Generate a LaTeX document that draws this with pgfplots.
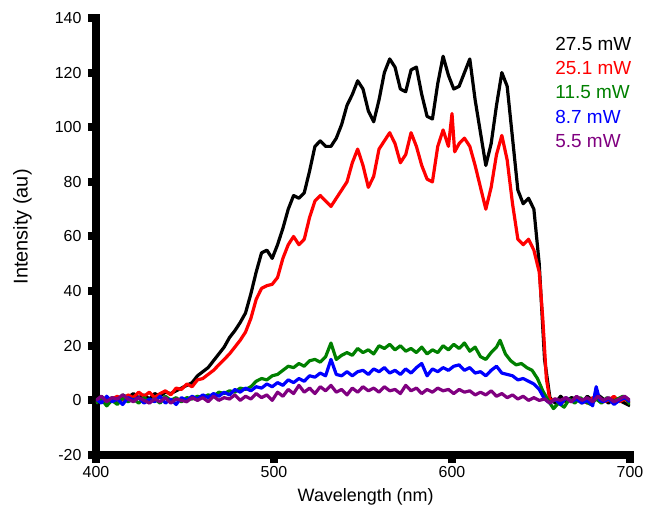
\documentclass[border=0pt]{standalone}
\usepackage{pgfplots}
\pgfplotsset{compat=1.18}
\usepackage{fontspec}
\setmainfont{Liberation Sans}
\definecolor{cgreen}{RGB}{0,128,0}
\definecolor{cpurple}{RGB}{128,0,128}

\pgfplotstableread{
x y
400 0.5
403 1.5
406 -0.5
409 1.0
412 0.0
415 2.0
418 1.0
421 2.5
424 1.0
427 2.0
430 0.5
433 2.5
436 1.5
439 3.0
442 2.5
445 3.5
448 4.5
451 5.5
454 6.5
457 9.0
460 10.5
463 12.0
466 14.5
469 17.0
472 19.5
475 23.0
478 25.5
481 28.5
484 32.0
487 39.0
490 47.0
493 54.0
496 55.0
499 52.0
502 57.0
505 63.0
508 70.0
511 75.0
514 74.0
517 76.0
520 84.0
523 93.0
526 95.0
529 93.0
532 93.0
535 96.0
538 101.0
541 108.0
544 112.0
547 117.0
550 114.0
553 106.0
556 102.0
559 110.0
562 120.0
565 125.0
568 122.0
571 114.0
574 113.0
577 121.0
580 122.0
583 112.0
586 104.0
589 103.0
592 116.0
595 126.0
598 119.0
601 114.0
604 115.0
607 120.0
610 125.0
613 110.0
616 98.0
619 86.0
622 94.0
625 108.0
628 120.0
631 115.0
634 96.0
637 77.0
640 72.0
643 74.0
646 70.0
649 50.0
652 15.0
655 1.0
658 -1.0
661 1.5
664 -0.5
667 1.0
670 0.5
673 -1.0
676 1.5
679 0.0
682 2.0
685 0.5
688 -1.0
691 1.0
694 0.0
697 -1.0
700 -2.0
}\pwa

\pgfplotstableread{
x y
400 -1.0
403 1.0
406 -1.5
409 0.5
412 1.5
415 0.0
418 2.0
421 1.0
424 3.0
427 1.5
430 3.0
433 1.0
436 2.5
439 3.5
442 2.0
445 4.5
448 4.0
451 6.0
454 5.0
457 7.5
460 8.0
463 9.5
466 11.0
469 13.0
472 15.0
475 17.0
478 19.5
481 22.0
484 25.0
487 30.0
490 37.0
493 41.0
496 42.0
499 42.5
502 45.0
505 52.0
508 57.0
511 60.0
514 57.0
517 59.0
520 67.0
523 73.0
526 75.0
529 73.0
532 71.0
535 74.0
538 77.0
541 80.0
544 87.0
547 92.0
550 86.0
553 78.0
556 82.0
559 92.0
562 95.0
565 98.0
568 94.0
571 87.0
574 90.0
577 98.0
580 93.0
583 86.0
586 81.0
589 80.0
592 93.0
595 99.0
598 93.0
600 105.0
601.5 91.0
604 94.0
607 96.0
610 93.0
613 86.0
616 78.0
619 70.0
622 78.0
625 90.0
628 97.0
631 88.0
634 72.0
637 59.0
640 57.0
643 59.0
646 55.0
649 47.0
651 30.0
653 8.0
655 0.0
658 0.5
661 -1.5
664 1.0
667 -0.5
670 1.0
673 0.0
676 -1.0
679 1.0
682 0.5
685 -0.5
688 0.0
691 1.5
694 -0.5
697 0.5
700 -1.0
}\pwb

\pgfplotstableread{
x y
400 -1.0
403 0.5
406 -2.0
409 0.0
412 -1.5
415 1.0
418 -0.5
421 0.5
424 -1.0
427 1.0
430 -0.5
433 0.5
436 -1.0
439 1.5
442 0.0
445 1.0
448 -0.5
451 1.0
454 0.5
457 1.5
460 1.0
463 2.0
466 1.5
469 3.0
472 2.5
475 3.5
478 3.0
481 4.5
484 4.0
487 5.0
490 7.0
493 8.0
496 7.5
499 9.0
502 9.5
505 11.0
508 12.5
511 12.0
514 13.5
517 12.5
520 14.5
523 15.0
526 14.0
529 16.0
532 21.0
535 15.0
538 16.5
541 17.5
544 16.5
547 19.0
550 17.5
553 18.5
556 17.0
559 20.0
562 19.0
565 20.5
568 18.5
571 20.0
574 18.0
577 19.0
580 17.5
583 19.5
586 17.0
589 18.5
592 17.5
595 20.0
598 18.5
601 20.5
604 19.0
607 21.0
610 18.0
613 19.5
616 16.0
619 15.0
622 17.5
625 19.5
627 22.0
630 17.0
633 14.5
636 13.0
639 13.5
642 12.0
645 11.0
648 8.0
651 3.5
654 0.0
657 -3.0
660 -1.0
663 -2.5
666 0.5
669 -1.0
672 1.0
675 -0.5
678 -1.5
681 0.5
684 -1.0
687 1.0
690 -0.5
693 0.5
696 1.5
698 0.5
700 -1.5
}\pwc

\pgfplotstableread{
x y
400 0.5
403 -1.0
406 1.5
409 -0.5
412 0.5
415 -1.5
418 1.0
421 0.0
424 1.0
427 -1.0
430 0.5
433 -0.5
436 1.5
439 -1.0
442 0.5
445 -1.5
448 1.0
451 0.0
454 1.5
457 0.5
460 2.0
463 1.0
466 2.5
469 1.5
472 3.0
475 2.0
478 4.0
481 3.0
484 4.5
487 3.5
490 5.0
493 4.5
496 6.0
499 5.0
502 6.5
505 5.5
508 7.5
511 6.5
514 8.0
517 7.0
520 9.0
523 8.5
526 10.0
529 9.0
532 15.0
535 9.5
538 9.0
541 10.5
544 9.0
547 10.5
550 11.0
553 9.5
556 11.5
559 10.5
562 12.0
565 10.0
568 11.0
571 9.5
574 11.5
577 10.0
580 12.0
583 13.5
586 9.0
589 11.5
592 10.5
595 12.0
598 11.0
601 12.5
604 13.0
607 11.0
610 12.0
613 10.0
616 10.5
619 9.0
622 11.0
625 12.5
628 10.0
631 9.5
634 9.0
637 7.5
640 8.0
643 7.0
646 6.0
649 4.0
652 0.5
655 -1.0
658 0.5
661 -1.5
664 1.0
667 -0.5
670 0.5
673 -1.0
676 0.0
679 -2.0
681 5.0
683 0.0
685 -0.5
688 0.5
691 -1.5
694 0.0
697 1.0
700 -0.5
}\pwd

\pgfplotstableread{
x y
400 0.0
403 1.5
406 -0.5
409 1.0
412 0.5
415 2.0
418 0.5
421 -0.5
424 1.0
427 0.0
430 -1.0
433 0.5
436 -0.5
439 1.0
442 -1.0
445 0.5
448 0.0
451 -0.5
454 1.0
457 0.0
460 1.0
463 -0.5
466 1.5
469 0.0
472 1.0
475 0.5
478 2.0
481 0.0
484 1.5
487 0.5
490 2.5
493 1.0
496 2.0
499 0.0
502 3.0
505 1.5
508 4.0
511 2.5
514 5.5
517 3.0
520 4.5
523 2.5
526 5.0
529 3.5
532 5.5
535 3.0
538 4.0
541 2.0
544 4.5
547 3.0
550 5.0
553 3.5
556 4.5
559 3.0
562 5.0
565 3.5
568 4.0
571 2.5
574 5.5
577 3.5
580 4.5
583 2.5
586 4.0
589 3.0
592 4.5
595 3.5
598 4.0
601 2.5
604 4.0
607 3.0
610 3.5
613 2.0
616 3.0
619 2.0
622 3.5
625 1.5
628 2.5
631 1.0
634 2.0
637 0.5
640 1.5
643 0.0
646 1.0
649 0.0
652 0.5
655 -1.0
658 0.5
661 0.0
664 1.0
667 -0.5
670 1.5
673 0.0
676 1.0
679 -0.5
682 1.5
685 0.0
688 1.0
691 -0.5
694 0.5
697 1.5
700 0.0
}\pwe

\begin{document}
\begin{tikzpicture}
\begin{axis}[
    at={(0,0)}, anchor=south west,
    scale only axis,
    width=534bp, height=437bp,
    xmin=400, xmax=700,
    ymin=-20, ymax=140,
    xtick={400,500,600,700},
    ytick={-20,0,20,40,60,80,100,120,140},
    minor tick num=0,
    axis lines*=left,
    axis line style={-, line width=8bp, line cap=rect},
    tick align=outside,
    major tick length=8bp,
    tick style={line width=8bp, black},
    /pgf/number format/assume math mode=true,
    tick label style={font=\fontsize{16}{16}\selectfont},
    yticklabel style={xshift=-3bp},
    xlabel={Wavelength (nm)},
    ylabel={Intensity (au)},
    xlabel style={font=\fontsize{18}{18}\selectfont,
                  at={(axis description cs:0.505,-0.096)}, anchor=center},
    ylabel style={font=\fontsize{20}{20}\selectfont,
                  at={(axis description cs:-0.1376,0.522)}, anchor=center},
    every axis plot/.append style={line width=3.2bp, line join=round},
]
\addplot[black] table[x=x, y=y] {\pwa};
\addplot[red] table[x=x, y=y] {\pwb};
\addplot[cgreen] table[x=x, y=y] {\pwc};
\addplot[blue] table[x=x, y=y] {\pwd};
\addplot[cpurple] table[x=x, y=y] {\pwe};
\node[anchor=north west, align=left, inner sep=0pt,
      font=\fontsize{19}{24.3}\selectfont]
  at (rel axis cs:0.86,0.9565)
  {\textcolor{black}{27.5 mW}\\ \textcolor{red}{25.1 mW}\\
   \textcolor{cgreen}{11.5 mW}\\ \textcolor{blue}{8.7 mW}\\
   \textcolor{cpurple}{5.5 mW}};
\end{axis}
\pgfresetboundingbox
\useasboundingbox (-96bp,-64bp) rectangle (554bp,455bp);
\end{tikzpicture}
\end{document}
